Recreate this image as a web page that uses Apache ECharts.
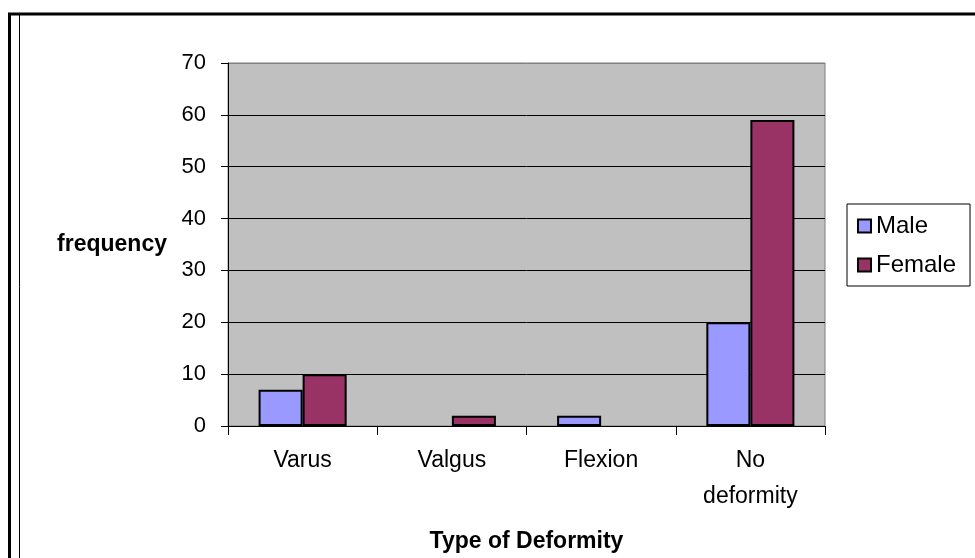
<!DOCTYPE html>
<html>
<head>
<meta charset="utf-8">
<script src="https://cdn.jsdelivr.net/npm/echarts@6/dist/echarts.min.js"></script>
<style>
  html, body { margin: 0; padding: 0; background: #fff; }
  #chart { width: 975px; height: 558px; }
</style>
</head>
<body>
<div id="chart"></div>
<script>
// data
var categories = ['Varus', 'Valgus', 'Flexion', 'No\ndeformity']
var male = [7, 0, 2, 20]
var female = [10, 2, 0, 59]
var yTicks = [0, 10, 20, 30, 40, 50, 60, 70]

var font = 'Liberation Sans, Arial, sans-serif'
var myChart = echarts.init(document.getElementById('chart'))

// top line of the plot is the grey frame, the rest black
var splitColors = yTicks.map(function (v, i) {
  return i === yTicks.length - 1 ? '#808080' : '#000'
})

// a zero bar draws nothing in the original, so drop its outline
function barData (values) {
  return values.map(function (v) {
    return v === 0 ? { value: 0, itemStyle: { borderWidth: 0 } } : v
  })
}

myChart.setOption({
  animation: false,
  textStyle: { fontFamily: font },
  graphic: [
    // page frame
    { type: 'line', shape: { x1: 8, y1: 14, x2: 975, y2: 14 }, style: { stroke: '#000', lineWidth: 3 } },
    { type: 'line', shape: { x1: 9.5, y1: 13, x2: 9.5, y2: 558 }, style: { stroke: '#000', lineWidth: 3 } },
    { type: 'line', shape: { x1: 19.5, y1: 15, x2: 19.5, y2: 558 }, style: { stroke: '#000', lineWidth: 1 } }
  ],
  grid: {
    left: 228,
    top: 63,
    right: 150,
    bottom: 130,
    show: true,
    backgroundColor: '#C0C0C0',
    borderColor: '#808080',
    borderWidth: 1
  },
  legend: {
    orient: 'vertical',
    left: 847,
    top: 204,
    padding: [10, 14, 9, 10],
    itemGap: 15,
    itemWidth: 13,
    itemHeight: 13,
    borderColor: '#000',
    borderWidth: 1,
    icon: 'rect',
    textStyle: { fontFamily: font, fontSize: 24, lineHeight: 24, color: '#000' },
    data: ['Male', 'Female']
  },
  xAxis: {
    type: 'category',
    data: categories,
    name: 'Type of Deformity',
    nameLocation: 'middle',
    nameGap: 104,
    nameTextStyle: { fontFamily: font, fontSize: 23, fontWeight: 'bold', color: '#000' },
    axisLine: { lineStyle: { color: '#000', width: 1 } },
    axisTick: { show: true, length: 9, lineStyle: { color: '#000' } },
    axisLabel: { fontFamily: font, fontSize: 23, lineHeight: 36, color: '#000', margin: 17 }
  },
  yAxis: {
    type: 'value',
    min: 0,
    max: 70,
    interval: 10,
    name: 'frequency',
    nameLocation: 'middle',
    nameRotate: 0,
    nameGap: 61,
    nameTextStyle: { fontFamily: font, fontSize: 23, fontWeight: 'bold', color: '#000', align: 'right' },
    axisLine: { show: true, lineStyle: { color: '#000', width: 1 } },
    axisTick: { show: true, length: 7, lineStyle: { color: '#000' } },
    axisLabel: { fontFamily: font, fontSize: 22, color: '#000', margin: 22 },
    splitLine: { show: true, lineStyle: { color: splitColors, width: 1 } }
  },
  series: [
    {
      name: 'Male',
      type: 'bar',
      data: barData(male),
      barGap: '0%',
      barCategoryGap: '41%',
      itemStyle: { color: '#9999FF', borderColor: '#000', borderWidth: 2 }
    },
    {
      name: 'Female',
      type: 'bar',
      data: barData(female),
      itemStyle: { color: '#993366', borderColor: '#000', borderWidth: 2 }
    }
  ]
})
</script>
</body>
</html>
